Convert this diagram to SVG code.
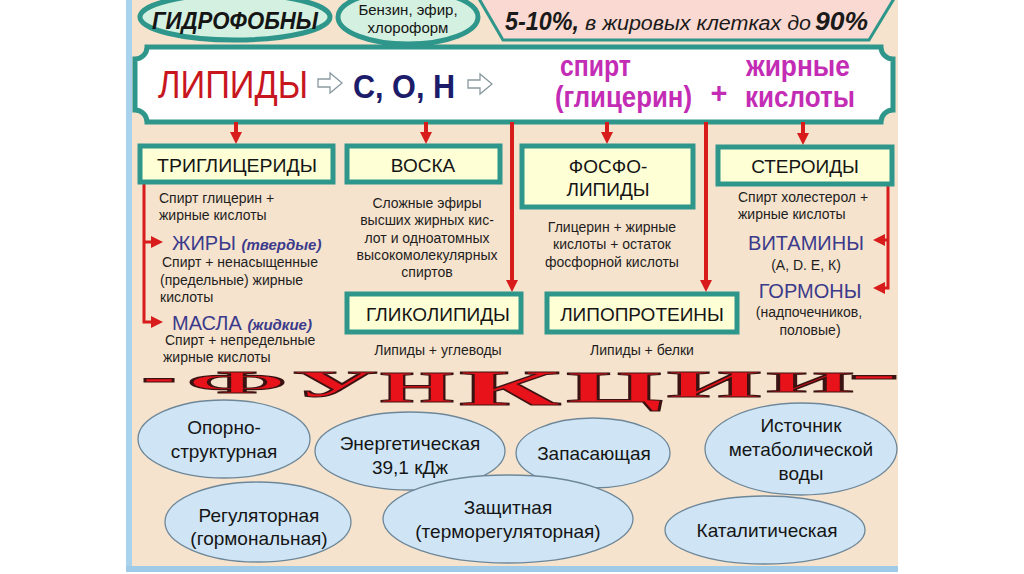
<svg xmlns="http://www.w3.org/2000/svg" width="1024" height="574" viewBox="0 0 1024 574">
<defs>
<style>
.sans{font-family:"Liberation Sans",Arial,sans-serif}
.box{fill:#ffffd6;stroke:#2e968a;stroke-width:5}
.ttl{font-family:"Liberation Sans",Arial,sans-serif;font-size:19px;fill:#151515;text-anchor:middle}
.sm{font-family:"Liberation Sans",Arial,sans-serif;font-size:14px;fill:#1e1e1e}
.mid{text-anchor:middle}
.blue{font-family:"Liberation Sans",Arial,sans-serif;font-size:20px;fill:#3b3b8c}
.blit{font-weight:bold;font-style:italic;font-size:15px}
.ell{fill:#cfe5f6;stroke:#6d8799;stroke-width:1.3}
.et{font-family:"Liberation Sans",Arial,sans-serif;font-size:19px;fill:#151515;text-anchor:middle}
.red{stroke:#d81c1c;fill:none}
.mag{font-family:"Liberation Sans",Arial,sans-serif;font-size:29px;font-weight:bold;fill:#c32cb4}
.wa{font-family:"Liberation Serif","Times New Roman",serif;font-weight:bold;fill:#e8121a;stroke:#3a1212;stroke-width:1.1}
.harrow{fill:#ffffff;stroke:#8a9aa0;stroke-width:1.3}
</style>
<marker id="ah" markerUnits="userSpaceOnUse" markerWidth="13" markerHeight="13" refX="4" refY="6" orient="auto">
<path d="M0,0 L12,6 L0,12 z" fill="#d81c1c"/>
</marker>
</defs>

<rect width="1024" height="574" fill="#ffffff"/>
<rect x="126" y="0" width="772" height="572" fill="#f6e3cd"/>
<rect x="126" y="0" width="6" height="572" fill="#a9d3ec"/>
<rect x="126" y="566" width="772" height="6" fill="#9fcbe9"/>

<g id="hydrophobic">
<ellipse cx="235" cy="17" rx="95" ry="23" fill="#d4f0e0" stroke="#2e968a" stroke-width="5"/>
<text x="235" y="29" class="sans" font-size="24" font-weight="bold" font-style="italic" fill="#151515" text-anchor="middle" textLength="166" lengthAdjust="spacingAndGlyphs">ГИДРОФОБНЫ</text>
</g>

<g id="solvents">
<ellipse cx="408" cy="17" rx="70" ry="27" fill="#d4f0e0" stroke="#2e968a" stroke-width="5"/>
<text x="408" y="15" class="sans" font-size="15" fill="#151515" text-anchor="middle">Бензин, эфир,</text>
<text x="408" y="33" class="sans" font-size="15" fill="#151515" text-anchor="middle">хлороформ</text>
</g>

<g id="content">
<polygon points="478,-3 503,40 869,40 895,-3" fill="#f9d9d1" stroke="#2e968a" stroke-width="3"/>
<text x="505" y="30" class="sans" font-size="26" font-weight="bold" font-style="italic" fill="#1a1a1a" textLength="74" lengthAdjust="spacingAndGlyphs">5-10%,</text>
<text x="585" y="30" class="sans" font-size="20" font-style="italic" fill="#1a1a1a" textLength="226" lengthAdjust="spacingAndGlyphs">в жировых клетках до</text>
<text x="815" y="30" class="sans" font-size="26" font-weight="bold" font-style="italic" fill="#1a1a1a" textLength="53" lengthAdjust="spacingAndGlyphs">90%</text>
</g>

<g id="lipids">
<path d="M147,47 H881 A12,12 0 0 0 893,59 V110 A12,12 0 0 0 881,122 H147 A12,12 0 0 0 135,110 V59 A12,12 0 0 0 147,47 Z" fill="#ffffff" stroke="#2e968a" stroke-width="5"/>
<text x="158" y="98" class="sans" font-size="38" fill="#c8161e" textLength="150" lengthAdjust="spacingAndGlyphs">ЛИПИДЫ</text>
<path class="harrow" d="M318,79 H330 V73 L342,83 L330,93 V87 H318 Z"/>
<text x="353" y="98" class="sans" font-size="34" font-weight="bold" fill="#1c1c6a" textLength="102" lengthAdjust="spacingAndGlyphs">С, О, Н</text>
<path class="harrow" d="M468,80 H480 V74 L492,84 L480,94 V88 H468 Z"/>
<text x="560" y="76" class="mag" textLength="71" lengthAdjust="spacingAndGlyphs">спирт</text>
<text x="555" y="107" class="mag" textLength="137" lengthAdjust="spacingAndGlyphs">(глицерин)</text>
<text x="719" y="103" class="mag" font-size="44" text-anchor="middle">+</text>
<text x="746" y="76" class="mag" textLength="104" lengthAdjust="spacingAndGlyphs">жирные</text>
<text x="745" y="107" class="mag" textLength="110" lengthAdjust="spacingAndGlyphs">кислоты</text>
</g>

<g id="connectors">
<line class="red" stroke-width="4" x1="236" y1="122" x2="236" y2="136" marker-end="url(#ah)"/>
<line class="red" stroke-width="4" x1="426" y1="122" x2="426" y2="136" marker-end="url(#ah)"/>
<line class="red" stroke-width="4" x1="512" y1="122" x2="512" y2="284" marker-end="url(#ah)"/>
<line class="red" stroke-width="4" x1="607" y1="122" x2="607" y2="136" marker-end="url(#ah)"/>
<line class="red" stroke-width="4" x1="706" y1="122" x2="706" y2="284" marker-end="url(#ah)"/>
<line class="red" stroke-width="4" x1="803" y1="122" x2="803" y2="137" marker-end="url(#ah)"/>
<path class="red" stroke-width="3" d="M144,183 V322 H155" marker-end="url(#ah)"/>
<path class="red" stroke-width="3" d="M144,242 H155" marker-end="url(#ah)"/>
<path class="red" stroke-width="3" d="M888,184 V288 H881" marker-end="url(#ah)"/>
<path class="red" stroke-width="3" d="M888,240 H881" marker-end="url(#ah)"/>
</g>

<g id="triglycerides">
<rect class="box" x="140" y="146" width="193" height="36"/>
<text class="ttl" x="237" y="172" textLength="160" lengthAdjust="spacingAndGlyphs">ТРИГЛИЦЕРИДЫ</text>
<text class="sm" x="159" y="203">Спирт глицерин +</text>
<text class="sm" x="159" y="220">жирные кислоты</text>
<text class="blue" x="172" y="250">ЖИРЫ <tspan class="blit">(твердые)</tspan></text>
<text class="sm" x="162" y="267">Спирт + ненасыщенные</text>
<text class="sm" x="160" y="285">(предельные) жирные</text>
<text class="sm" x="160" y="302">кислоты</text>
<text class="blue" x="172" y="330">МАСЛА <tspan class="blit">(жидкие)</tspan></text>
<text class="sm" x="165" y="345">Спирт + непредельные</text>
<text class="sm" x="163" y="362">жирные кислоты</text>
</g>

<g id="waxes">
<rect class="box" x="347" y="146" width="153" height="36"/>
<text class="ttl" x="423" y="172">ВОСКА</text>
<text class="sm mid" x="427" y="208">Сложные эфиры</text>
<text class="sm mid" x="427" y="225">высших жирных кис-</text>
<text class="sm mid" x="427" y="243">лот и одноатомных</text>
<text class="sm mid" x="427" y="260">высокомолекулярных</text>
<text class="sm mid" x="427" y="277">спиртов</text>
</g>

<g id="phospholipids">
<rect class="box" x="522" y="146" width="171" height="61"/>
<text class="ttl" x="608" y="173">ФОСФО-</text>
<text class="ttl" x="608" y="196">ЛИПИДЫ</text>
<text class="sm mid" x="612" y="232">Глицерин + жирные</text>
<text class="sm mid" x="612" y="249">кислоты + остаток</text>
<text class="sm mid" x="612" y="267">фосфорной кислоты</text>
</g>

<g id="steroids">
<rect class="box" x="718" y="147" width="174" height="37"/>
<text class="ttl" x="805" y="173">СТЕРОИДЫ</text>
<text class="sm" x="738" y="202">Спирт холестерол +</text>
<text class="sm" x="738" y="219">жирные кислоты</text>
<text class="blue mid" x="806" y="250">ВИТАМИНЫ</text>
<text class="sm mid" x="806" y="270">(А, D. Е, К)</text>
<text class="blue mid" x="810" y="298">ГОРМОНЫ</text>
<text class="sm mid" x="809" y="317">(надпочечников,</text>
<text class="sm mid" x="810" y="335">половые)</text>
</g>

<g id="glycolipids">
<rect class="box" x="347" y="294" width="174" height="38"/>
<text class="ttl" x="438" y="321">ГЛИКОЛИПИДЫ</text>
<text class="sm mid" x="438" y="355">Липиды + углеводы</text>
</g>

<g id="lipoproteins">
<rect class="box" x="547" y="294" width="190" height="38"/>
<text class="ttl" x="642" y="321">ЛИПОПРОТЕИНЫ</text>
<text class="sm mid" x="642" y="355">Липиды + белки</text>
</g>

<g id="functions-title">
<text class="wa" x="141" y="390" font-size="40" textLength="36" lengthAdjust="spacingAndGlyphs">-</text>
<text class="wa" x="187" y="393" font-size="32" textLength="100" lengthAdjust="spacingAndGlyphs">Ф</text>
<text class="wa" x="292" y="397" font-size="38" textLength="86" lengthAdjust="spacingAndGlyphs">У</text>
<text class="wa" x="380" y="402" font-size="45" textLength="74" lengthAdjust="spacingAndGlyphs">Н</text>
<text class="wa" x="459" y="405" font-size="50" textLength="102" lengthAdjust="spacingAndGlyphs">К</text>
<text class="wa" x="566" y="402" font-size="45" textLength="97" lengthAdjust="spacingAndGlyphs">Ц</text>
<text class="wa" x="667" y="397" font-size="38" textLength="94" lengthAdjust="spacingAndGlyphs">И</text>
<text class="wa" x="767" y="392" font-size="30" textLength="86" lengthAdjust="spacingAndGlyphs">И</text>
<text class="wa" x="848" y="387" font-size="40" textLength="52" lengthAdjust="spacingAndGlyphs">-</text>
</g>

<g id="f-structural">
<ellipse class="ell" cx="224" cy="439" rx="86" ry="39"/>
<text class="et" x="224" y="434">Опорно-</text>
<text class="et" x="224" y="458">структурная</text>
</g>
<g id="f-energy">
<ellipse class="ell" cx="410" cy="451" rx="95" ry="39"/>
<text class="et" x="410" y="450">Энергетическая</text>
<text class="et" x="410" y="474">39,1 кДж</text>
</g>
<g id="f-storage">
<ellipse class="ell" cx="593" cy="453" rx="77" ry="35"/>
<text class="et" x="594" y="460">Запасающая</text>
</g>
<g id="f-water">
<ellipse class="ell" cx="801" cy="449" rx="96" ry="46"/>
<text class="et" x="801" y="432">Источник</text>
<text class="et" x="801" y="456">метаболической</text>
<text class="et" x="801" y="480">воды</text>
</g>
<g id="f-regulatory">
<ellipse class="ell" cx="258" cy="522" rx="93" ry="40"/>
<text class="et" x="259" y="522">Регуляторная</text>
<text class="et" x="259" y="545">(гормональная)</text>
</g>
<g id="f-protective">
<ellipse class="ell" cx="508" cy="519" rx="125" ry="44"/>
<text class="et" x="508" y="514">Защитная</text>
<text class="et" x="508" y="538">(терморегуляторная)</text>
</g>
<g id="f-catalytic">
<ellipse class="ell" cx="765" cy="530" rx="100" ry="34"/>
<text class="et" x="767" y="537">Каталитическая</text>
</g>
</svg>
